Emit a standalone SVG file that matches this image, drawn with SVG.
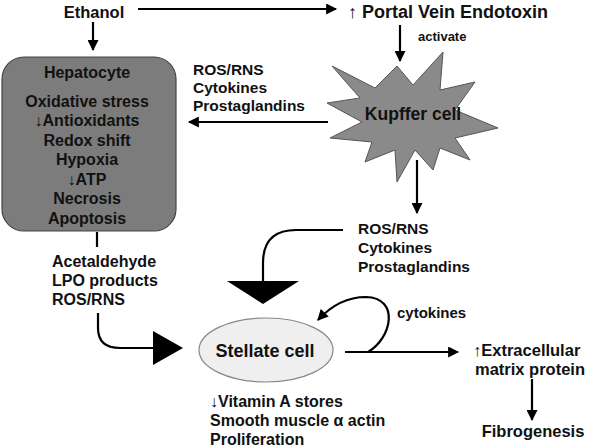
<svg xmlns="http://www.w3.org/2000/svg" width="600" height="448" viewBox="0 0 600 448">
<defs>
<style>
text{font-family:"Liberation Sans",Arial,sans-serif;font-weight:bold;fill:#111;font-size:15px}
.c{text-anchor:middle}
.ln{fill:none;stroke:#000;stroke-width:2.2}
</style>
<marker id="ah" viewBox="0 0 10 10" refX="9" refY="5" markerWidth="5.5" markerHeight="5" markerUnits="strokeWidth" orient="auto">
<path d="M0,0 L10,5 L0,10 z" fill="#000"/>
</marker>
</defs>
<rect width="600" height="448" fill="#fff"/>

<g id="ethanol"><text x="94" y="18" class="c" style="font-size:16.5px">Ethanol</text></g>
<g id="portal"><text x="348" y="18" style="font-size:18px">↑ Portal Vein Endotoxin</text>
<text x="418" y="41" style="font-size:13px">activate</text></g>

<g id="hepatocyte">
<rect x="2" y="57" width="174" height="174" rx="22" fill="#7c7c7c" stroke="#444" stroke-width="1.2"/>
<text x="87" y="78" class="c" style="font-size:16px">Hepatocyte</text>
<text x="87" y="107" class="c" style="font-size:16px">Oxidative stress</text>
<text x="87" y="126" class="c" style="font-size:16px">↓Antioxidants</text>
<text x="87" y="146" class="c" style="font-size:16px">Redox shift</text>
<text x="87" y="165" class="c" style="font-size:16px">Hypoxia</text>
<text x="87" y="185" class="c" style="font-size:16px">↓ATP</text>
<text x="87" y="204" class="c" style="font-size:16px">Necrosis</text>
<text x="87" y="224" class="c" style="font-size:16px">Apoptosis</text>
</g>

<g id="kupffer">
<polygon points="332,66 375,88 397,66 413,85 443,52 440,90 475,82 455,110 498,128 455,138 470,160 440,148 433,170 415,150 397,182 395,150 365,162 372,142 330,138 362,122 327,103 360,98" fill="#8a8a8a" stroke="#555" stroke-width="1"/>
<text x="413" y="120" class="c" style="font-size:17.5px">Kupffer cell</text>
</g>

<g id="signals1">
<text x="193" y="75" style="font-size:15.5px">ROS/RNS</text>
<text x="193" y="93" style="font-size:15.5px">Cytokines</text>
<text x="193" y="111" style="font-size:15.5px">Prostaglandins</text>
</g>

<g id="signals2">
<text x="358" y="234" style="font-size:15.5px">ROS/RNS</text>
<text x="358" y="253" style="font-size:15.5px">Cytokines</text>
<text x="358" y="272" style="font-size:15.5px">Prostaglandins</text>
</g>

<g id="hepsignals">
<text x="52" y="267" style="font-size:16px">Acetaldehyde</text>
<text x="52" y="286" style="font-size:16px">LPO products</text>
<text x="52" y="305" style="font-size:16px">ROS/RNS</text>
</g>

<g id="stellate">
<ellipse cx="266" cy="350" rx="67" ry="32" fill="#efefef" stroke="#888" stroke-width="1.2"/>
<text x="265" y="357" class="c" style="font-size:18px">Stellate cell</text>
</g>

<g id="stellate-effects">
<text x="210" y="407" style="font-size:16px">↓Vitamin A stores</text>
<text x="210" y="426" style="font-size:16px">Smooth muscle α actin</text>
<text x="210" y="445" style="font-size:16px">Proliferation</text>
</g>

<g id="cytokines-label"><text x="397" y="318">cytokines</text></g>

<g id="ecm">
<text x="473" y="356" style="font-size:16.5px">↑Extracellular</text>
<text x="475" y="375" style="font-size:16.5px">matrix protein</text>
</g>
<g id="fibrogenesis"><text x="533" y="437" class="c" style="font-size:16.5px">Fibrogenesis</text></g>

<g id="connectors">
<line x1="138" y1="9" x2="336" y2="9" class="ln" marker-end="url(#ah)"/>
<line x1="93" y1="22" x2="93" y2="50" class="ln" marker-end="url(#ah)"/>
<line x1="400" y1="25" x2="400" y2="61" class="ln" marker-end="url(#ah)"/>
<line x1="328" y1="122" x2="189" y2="122" class="ln" marker-end="url(#ah)"/>
<line x1="417" y1="160" x2="417" y2="213" class="ln" marker-end="url(#ah)"/>
<path d="M343,230 L296,230 Q263,230 263,263 L263,282" class="ln"/>
<polygon points="227,281 299,281 263,304" fill="#000"/>
<line x1="97" y1="232" x2="97" y2="247" class="ln"/>
<path d="M98,313 L98,328 Q98,348 120,348 L154,348" class="ln"/>
<polygon points="153,331 153,365 183,348" fill="#000"/>
<line x1="345" y1="352" x2="458" y2="352" class="ln" marker-end="url(#ah)"/>
<path d="M368,352 C392,338 400,298 366,297 C346,297 330,307 318,320" class="ln" marker-end="url(#ah)"/>
<line x1="532" y1="379" x2="532" y2="420" class="ln" marker-end="url(#ah)"/>
</g>
</svg>
